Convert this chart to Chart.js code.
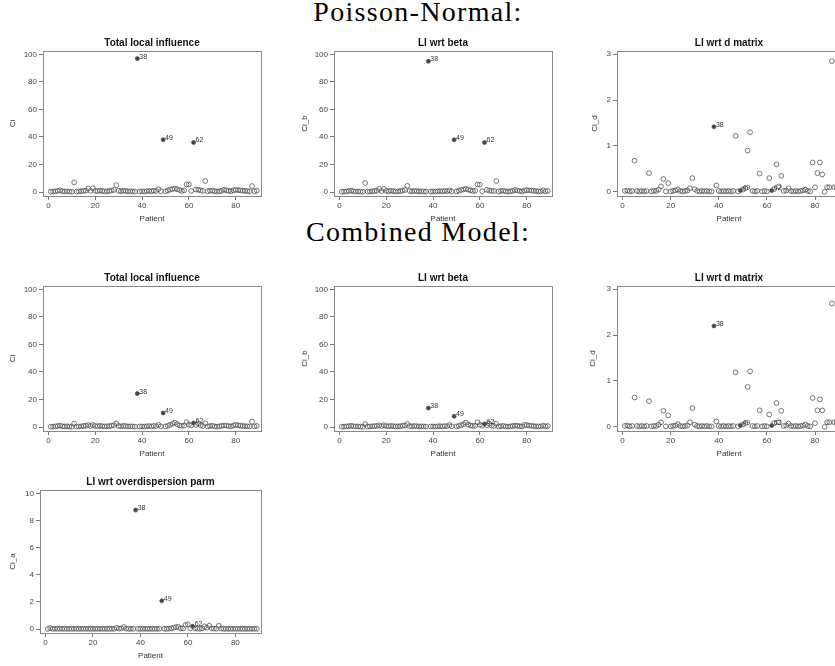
<!DOCTYPE html>
<html>
<head>
<meta charset="utf-8">
<script src="https://cdn.jsdelivr.net/npm/chart.js@4.4.0/dist/chart.umd.min.js"></script>
<style>
  html, body { margin: 0; padding: 0; background: #fff; }
  body { width: 835px; height: 666px; overflow: hidden; position: relative; }
  .heading { position: absolute; left: 0; width: 836px; text-align: center;
    font-family: "Liberation Serif", serif; font-size: 28px; line-height: 30px;
    letter-spacing: 1.3px; color: #000; }
  canvas { position: absolute; }
</style>
</head>
<body>
<div class="heading" style="top:-3px">Poisson-Normal:</div>
<div class="heading" style="top:217px">Combined Model:</div>
<script>
// patient ids on the x axis
var patients = [1,2,3,4,5,6,7,8,9,10,11,12,13,14,15,16,17,18,19,20,
  21,22,23,24,25,26,27,28,29,30,31,32,33,34,35,36,37,38,39,40,
  41,42,43,44,45,46,47,48,49,50,51,52,53,54,55,56,57,58,59,60,
  61,62,63,64,65,66,67,68,69,70,71,72,73,74,75,76,77,78,79,80,
  81,82,83,84,85,86,87,88,89]

// flagged patients (filled dots with a label)
var flagged = [38, 49, 62]
var flagLabels = ['38', '49', '62']

var xTicks = [0, 20, 40, 60, 80]
var yTicks100 = [0, 20, 40, 60, 80, 100]
var yTicks3 = [0, 1, 2, 3]
var yTicks10 = [0, 2, 4, 6, 8, 10]

// Poisson-Normal
var ciPN = [0.2,0.3,0.5,0.8,1.2,0.6,0.4,0.5,0.3,0.2, 7.0,0.3,0.4,0.6,0.8,1.0,2.5,0.8,2.8,0.9,
  0.6,1.0,0.7,0.4,0.5,0.8,1.1,1.5,5.0,0.9, 0.6,0.9,0.8,0.4,0.6,0.5,0.3,97.0,0.4,0.5,
  0.3,0.6,0.8,0.5,0.9,0.7,2.0,0.6,38.0,0.5, 1.0,1.8,2.2,2.5,2.0,1.4,0.8,1.2,5.5,5.5,
  0.8,36.0,1.8,1.6,1.2,0.9,8.0,0.5,0.9,1.0, 0.6,0.3,0.5,0.9,1.6,1.2,0.9,0.5,1.3,1.5,
  1.4,1.2,1.0,0.8,0.6,0.5,4.3,0.5,1.0]
var cibPN = [0.2,0.3,0.4,0.7,1.0,0.5,0.4,0.4,0.3,0.2, 6.5,0.3,0.4,0.5,0.7,0.9,2.3,0.7,2.3,0.8,
  0.5,0.9,0.6,0.4,0.5,0.7,1.0,1.5,4.5,0.8, 0.5,0.8,0.7,0.4,0.5,0.4,0.3,95.0,0.4,0.4,
  0.3,0.5,0.7,0.4,0.8,0.6,1.2,0.5,38.0,0.4, 0.9,1.5,1.9,2.3,1.8,1.2,0.7,1.0,5.5,5.3,
  0.6,36.0,1.6,1.0,0.8,0.7,8.0,0.4,0.8,0.9, 0.5,0.3,0.5,0.8,1.4,1.1,0.8,0.4,1.1,1.3,
  1.2,1.0,0.9,0.7,0.5,0.4,1.3,0.4,0.8]
var cidPN = [0.02,0.03,0.01,0.02,0.68,0.02,0.01,0.02,0.01,0.02, 0.41,0.01,0.02,0.02,0.05,0.12,0.28,0.01,0.19,0.01,
  0.02,0.03,0.05,0.02,0.01,0.02,0.03,0.08,0.30,0.06, 0.02,0.01,0.02,0.01,0.02,0.01,0.01,1.42,0.14,0.02,
  0.01,0.02,0.01,0.02,0.01,0.02,1.22,0.01,0.03,0.05, 0.08,0.90,1.30,0.02,0.01,0.02,0.40,0.01,0.02,0.01,
  0.30,0.03,0.06,0.60,0.12,0.35,0.02,0.03,0.08,0.02, 0.01,0.02,0.01,0.02,0.03,0.05,0.02,0.01,0.64,0.10,
  0.41,0.64,0.38,0.00,0.10,0.10,2.85,0.10,0.10]

// Combined model
var ciCM = [0.2,0.3,0.5,0.7,1.0,0.5,0.4,0.5,0.3,0.2, 2.5,0.3,0.4,0.5,0.7,0.9,1.4,0.7,1.5,0.8,
  0.5,0.9,0.6,0.4,0.5,0.7,1.0,1.3,2.6,0.8, 0.5,0.8,0.7,0.4,0.5,0.4,0.3,24.3,0.4,0.4,
  0.3,0.5,0.7,0.4,0.8,0.6,1.6,0.5,10.2,0.4, 0.9,1.5,2.3,3.2,2.0,1.2,0.9,1.0,3.6,1.8,
  1.2,2.9,1.5,2.6,1.2,0.8,2.7,0.4,0.7,0.9, 0.5,0.3,0.5,0.8,1.2,1.0,0.7,0.4,1.1,1.6,
  1.2,1.0,0.8,0.6,0.5,0.4,3.9,0.4,0.8]
var cibCM = [0.2,0.3,0.4,0.6,0.9,0.5,0.4,0.4,0.3,0.2, 2.2,0.3,0.4,0.5,0.6,0.8,1.2,0.6,1.3,0.7,
  0.5,0.8,0.6,0.4,0.5,0.6,0.9,1.2,2.2,0.7, 0.5,0.7,0.6,0.4,0.5,0.4,0.3,13.8,0.4,0.4,
  0.3,0.5,0.6,0.4,0.7,0.6,1.4,0.5,7.8,0.4, 0.8,1.3,2.0,3.2,1.8,1.1,0.8,0.9,3.4,1.6,
  1.0,2.2,1.3,2.4,1.0,0.7,2.4,0.4,0.6,0.8, 0.4,0.3,0.4,0.7,1.0,0.9,0.6,0.4,1.5,1.4,
  1.0,0.9,0.7,0.5,0.4,0.4,1.0,0.4,0.7]
var cidCM = [0.02,0.03,0.01,0.02,0.64,0.02,0.01,0.02,0.01,0.02, 0.56,0.01,0.02,0.02,0.05,0.10,0.35,0.01,0.25,0.01,
  0.02,0.03,0.06,0.02,0.01,0.02,0.03,0.10,0.41,0.05, 0.02,0.01,0.02,0.01,0.02,0.01,0.01,2.20,0.12,0.02,
  0.01,0.02,0.01,0.02,0.01,0.02,1.19,0.01,0.03,0.05, 0.08,0.87,1.21,0.02,0.01,0.02,0.36,0.01,0.02,0.01,
  0.27,0.03,0.08,0.52,0.10,0.35,0.02,0.03,0.07,0.02, 0.01,0.02,0.01,0.02,0.03,0.05,0.02,0.01,0.63,0.08,
  0.36,0.60,0.36,0.00,0.10,0.10,2.69,0.10,0.10]
var ciaCM = [0.02,0.08,0.02,0.02,0.02,0.02,0.02,0.02,0.02,0.02, 0.02,0.02,0.02,0.02,0.02,0.02,0.02,0.02,0.02,0.02,
  0.02,0.02,0.02,0.02,0.02,0.02,0.02,0.02,0.02,0.10, 0.03,0.05,0.15,0.03,0.02,0.02,0.02,8.77,0.02,0.02,
  0.02,0.02,0.02,0.02,0.02,0.02,0.02,0.02,2.08,0.02, 0.02,0.03,0.05,0.10,0.15,0.15,0.05,0.05,0.30,0.35,
  0.05,0.20,0.05,0.03,0.03,0.05,0.20,0.10,0.25,0.05, 0.03,0.03,0.25,0.03,0.02,0.02,0.02,0.02,0.02,0.02,
  0.02,0.02,0.02,0.02,0.02,0.02,0.02,0.02,0.02]

var sans = '"Liberation Sans", Arial, sans-serif'

// grey frame round the plot area
var boxPlugin = {
  id: 'box',
  beforeDatasetsDraw: function (chart) {
    var a = chart.chartArea, ctx = chart.ctx
    ctx.save()
    ctx.strokeStyle = '#888'
    ctx.lineWidth = 1
    ctx.strokeRect(Math.round(a.left) + 0.5, Math.round(a.top) + 0.5,
      Math.round(a.right - a.left), Math.round(a.bottom - a.top))
    ctx.restore()
  }
}

// small number next to the flagged dots
var labelPlugin = {
  id: 'pointLabels',
  afterDatasetsDraw: function (chart) {
    var ctx = chart.ctx
    var meta = chart.getDatasetMeta(0)
    ctx.save()
    ctx.font = '7px ' + sans
    ctx.fillStyle = '#333'
    ctx.textAlign = 'left'
    ctx.textBaseline = 'bottom'
    flagged.forEach(function (p, k) {
      var el = meta.data[patients.indexOf(p)]
      ctx.fillText(flagLabels[k], el.x + 2, el.y + 1.5)
    })
    ctx.restore()
  }
}

// panel title centred over the frame
var titlePlugin = {
  id: 'panelTitle',
  afterDraw: function (chart, args, opts) {
    var a = chart.chartArea, ctx = chart.ctx
    ctx.save()
    ctx.font = 'bold 10px ' + sans
    ctx.fillStyle = '#111'
    ctx.textAlign = 'center'
    ctx.textBaseline = 'middle'
    ctx.fillText(opts.text, (a.left + a.right) / 2, a.top - 8)
    ctx.restore()
  }
}

function panel(pos, title, yName, values, yMin, yMax, yTicks) {
  var canvas = document.createElement('canvas')
  var w = pos.R - pos.col + 6
  var h = 26 + (pos.B - pos.T) + 28
  canvas.width = w
  canvas.height = h
  canvas.style.left = pos.col + 'px'
  canvas.style.top = (pos.T - 26) + 'px'
  document.body.appendChild(canvas)

  var pts = patients.map(function (p, i) { return { x: p, y: values[i] } })
  var isFlag = function (c) { return flagged.indexOf(patients[c.dataIndex]) >= 0 }

  new Chart(canvas, {
    type: 'scatter',
    data: {
      datasets: [{
        data: pts,
        pointRadius: function (c) { return isFlag(c) ? 2 : 2.4 },
        pointBorderWidth: 0.8,
        pointBorderColor: '#555',
        pointBackgroundColor: function (c) { return isFlag(c) ? '#444' : 'rgba(0,0,0,0)' }
      }]
    },
    options: {
      responsive: false,
      animation: false,
      devicePixelRatio: 1,
      layout: { padding: { top: 26, left: 0, right: 6, bottom: 0 } },
      plugins: {
        legend: { display: false },
        tooltip: { enabled: false },
        panelTitle: { text: title }
      },
      scales: {
        x: {
          type: 'linear', min: -2.3, max: 90.8,
          afterBuildTicks: function (s) { s.ticks = xTicks.map(function (v) { return { value: v } }) },
          afterFit: function (s) { s.height = 28; s.paddingLeft = 0; s.paddingRight = 0 },
          border: { display: false },
          grid: { display: true, drawOnChartArea: false, tickLength: 4, color: '#777' },
          ticks: { font: { size: 8, family: sans }, color: '#444', padding: 1, maxRotation: 0 },
          title: { display: true, text: 'Patient', font: { size: 8, family: sans }, color: '#333', padding: { top: 0, bottom: 0 } }
        },
        y: {
          type: 'linear', min: yMin, max: yMax,
          afterBuildTicks: function (s) { s.ticks = yTicks.map(function (v) { return { value: v } }) },
          afterFit: function (s) { s.width = pos.L - pos.col; s.paddingTop = 0; s.paddingBottom = 0 },
          border: { display: false },
          grid: { display: true, drawOnChartArea: false, tickLength: 4, color: '#777' },
          ticks: { font: { size: 8, family: sans }, color: '#444', padding: 2 },
          title: { display: true, text: yName, font: { size: 8, family: sans }, color: '#333', padding: { top: pos.yt - pos.col - 4.8, bottom: 0 } }
        }
      }
    },
    plugins: [boxPlugin, labelPlugin, titlePlugin]
  })
}

panel({ col: 0, L: 43, R: 261, T: 51, B: 196, yt: 13 }, 'Total local influence', 'Ci', ciPN, -2.9, 102.5, yTicks100)
panel({ col: 291, L: 334, R: 552, T: 51, B: 196, yt: 305 }, 'LI wrt beta', 'Ci_b', cibPN, -2.9, 102.5, yTicks100)
panel({ col: 582, L: 617, R: 841, T: 51, B: 196, yt: 595 }, 'LI wrt d matrix', 'Ci_d', cidPN, -0.09, 3.07, yTicks3)

panel({ col: 0, L: 43, R: 261, T: 286, B: 431, yt: 13 }, 'Total local influence', 'Ci', ciCM, -2.9, 102.5, yTicks100)
panel({ col: 291, L: 334, R: 552, T: 286, B: 431, yt: 305 }, 'LI wrt beta', 'Ci_b', cibCM, -2.9, 102.5, yTicks100)
panel({ col: 582, L: 617, R: 841, T: 286, B: 431, yt: 593 }, 'LI wrt d matrix', 'Ci_d', cidCM, -0.09, 3.07, yTicks3)

panel({ col: 0, L: 40, R: 261, T: 490, B: 633, yt: 13 }, 'LI wrt overdispersion parm', 'Ci_a', ciaCM, -0.29, 10.25, yTicks10)
</script>
</body>
</html>
